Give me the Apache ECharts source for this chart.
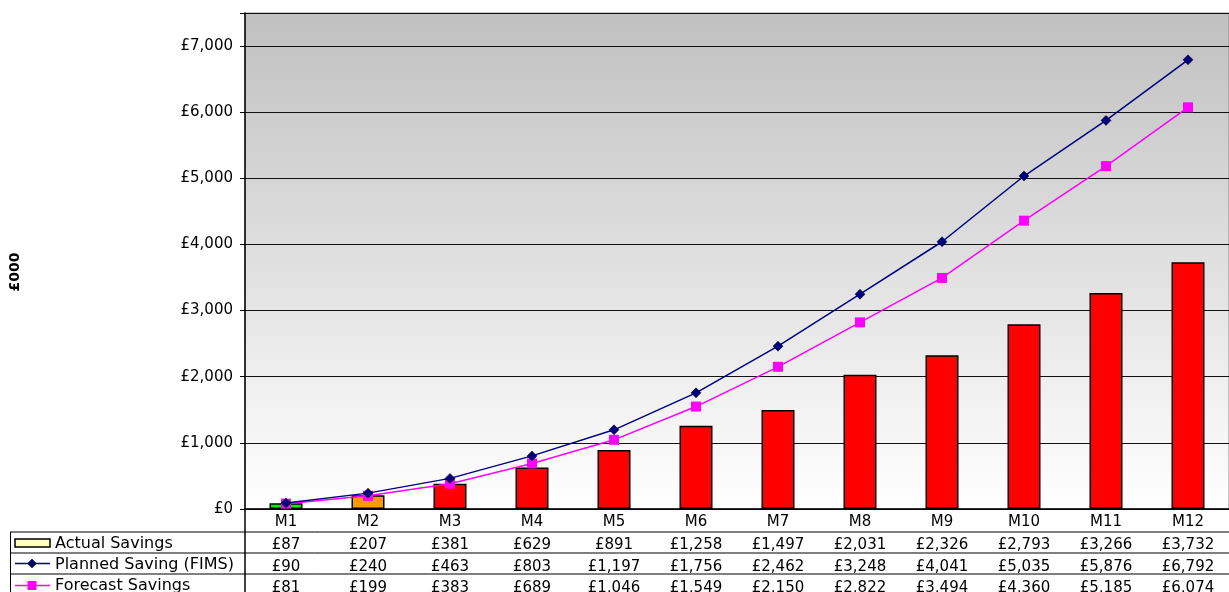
<!DOCTYPE html>
<html>
<head>
<meta charset="utf-8">
<script src="https://cdn.jsdelivr.net/npm/echarts@6/dist/echarts.min.js"></script>
<style>
html,body{margin:0;padding:0;background:#fff;}
#chart{width:1229px;height:592px;}
</style>
</head>
<body>
<div id="chart"></div>
<script>
var categories = ['M1','M2','M3','M4','M5','M6','M7','M8','M9','M10','M11','M12'];
var actualSavings = [87,207,381,629,891,1258,1497,2031,2326,2793,3266,3732];
var plannedSaving = [90,240,463,803,1197,1756,2462,3248,4041,5035,5876,6792];
var forecastSavings = [81,199,383,689,1046,1549,2150,2822,3494,4360,5185,6074];
var barColors = ['#00ee00','#ff9900','#ff0000','#ff0000','#ff0000','#ff0000','#ff0000','#ff0000','#ff0000','#ff0000','#ff0000','#ff0000'];
var yTicks = [0,1000,2000,3000,4000,5000,6000,7000];

function fmt(n){ return '\u00A3' + String(n).replace(/\B(?=(\d{3})+(?!\d))/g, ','); }

var FONT = 'DejaVu Sans';
var chart = echarts.init(document.getElementById('chart'), null, {renderer:'canvas'});

function rowAxis(offset, arr){
  return {
    type:'category', data:categories, gridIndex:0, position:'bottom', offset:offset,
    axisLine:{show:false}, axisTick:{show:false}, splitLine:{show:false},
    axisLabel:{interval:0, margin:6, fontFamily:FONT, fontSize:15, color:'#000',
      formatter:function(v,i){ return fmt(arr[i]); }}
  };
}

var option = {
  animation:false,
  backgroundColor:'#ffffff',
  grid:{left:245, right:0, top:13, bottom:83, outerBoundsMode:'none', containLabel:false,
    show:true, borderWidth:1, borderColor:'#909090',
    backgroundColor:new echarts.graphic.LinearGradient(0,0,0,1,[{offset:0,color:'#c0c0c0'},{offset:1,color:'#ffffff'}])},
  xAxis:[
    {type:'category', data:categories, gridIndex:0, position:'bottom',
     axisLine:{show:true, lineStyle:{color:'#000', width:1.5}}, axisTick:{show:false},
     axisLabel:{interval:0, margin:6, fontFamily:FONT, fontSize:15, color:'#000'}},
    rowAxis(23, actualSavings),
    rowAxis(45, plannedSaving),
    rowAxis(66, forecastSavings)
  ],
  yAxis:{type:'value', min:0, max:7500, interval:1000,
    axisLine:{show:true, lineStyle:{color:'#000', width:1.5}},
    axisTick:{show:true, length:5, lineStyle:{color:'#000'}},
    splitLine:{show:true, lineStyle:{color:'#111', width:1}},
    axisLabel:{margin:12, fontFamily:FONT, fontSize:15, color:'#000',
      formatter:function(v){ return yTicks.indexOf(v) >= 0 ? fmt(v) : ''; }}
  },
  series:[
    {name:'Actual Savings', type:'bar', xAxisIndex:0, barWidth:33, z:2,
     data:actualSavings.map(function(v,i){ return {value:v, itemStyle:{color:barColors[i]}}; }),
     itemStyle:{borderColor:'#000', borderWidth:1.5}},
    {name:'Planned Saving (FIMS)', type:'line', xAxisIndex:0, data:plannedSaving, z:4,
     symbol:'diamond', symbolSize:10, showAllSymbol:true,
     lineStyle:{color:'#000080', width:1.5},
     itemStyle:{color:'#000080', borderColor:'#000', borderWidth:0.5}},
    {name:'Forecast Savings', type:'line', xAxisIndex:0, data:forecastSavings, z:3,
     symbol:'rect', symbolSize:10, showAllSymbol:true,
     lineStyle:{color:'#ff00ff', width:1.5},
     itemStyle:{color:'#ff00ff', borderWidth:0}}
  ],
  graphic:[
    {type:'text', x:15, y:272, rotation:Math.PI/2,
     style:{text:'\u00A3000', font:'bold 14px "DejaVu Sans"', fill:'#000', align:'center', verticalAlign:'middle'}},
    {type:'line', shape:{x1:10,y1:532,x2:1229,y2:532}, style:{stroke:'#000', lineWidth:1}},
    {type:'line', shape:{x1:10,y1:553,x2:1229,y2:553}, style:{stroke:'#000', lineWidth:1}},
    {type:'line', shape:{x1:10,y1:574,x2:1229,y2:574}, style:{stroke:'#000', lineWidth:1}},
    {type:'line', shape:{x1:10.5,y1:532,x2:10.5,y2:592}, style:{stroke:'#000', lineWidth:1}},
    {type:'line', shape:{x1:245,y1:509,x2:245,y2:592}, style:{stroke:'#000', lineWidth:1.5}},
    {type:'rect', shape:{x:15,y:539,width:35,height:8}, style:{fill:'#ffffc0', stroke:'#000', lineWidth:1.5}},
    {type:'text', x:55, y:544, style:{text:'Actual Savings', font:'16px "DejaVu Sans"', fill:'#000', verticalAlign:'middle'}},
    {type:'line', shape:{x1:15,y1:563.5,x2:50,y2:563.5}, style:{stroke:'#000080', lineWidth:1.5}},
    {type:'polygon', shape:{points:[[32,559],[36.5,563.5],[32,568],[27.5,563.5]]}, style:{fill:'#000080', stroke:'#000', lineWidth:0.5}},
    {type:'text', x:55, y:565, style:{text:'Planned Saving (FIMS)', font:'16px "DejaVu Sans"', fill:'#000', verticalAlign:'middle'}},
    {type:'line', shape:{x1:15,y1:585.5,x2:50,y2:585.5}, style:{stroke:'#ff00ff', lineWidth:1.5}},
    {type:'rect', shape:{x:27.5,y:581,width:9,height:9}, style:{fill:'#ff00ff'}},
    {type:'text', x:55, y:586, style:{text:'Forecast Savings', font:'16px "DejaVu Sans"', fill:'#000', verticalAlign:'middle'}}
  ]
};
chart.setOption(option);
</script>
</body>
</html>
